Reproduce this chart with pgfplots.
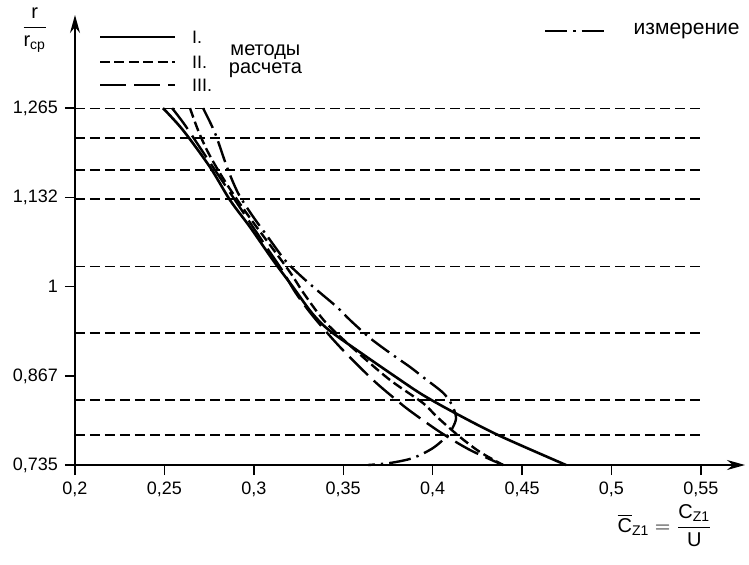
\documentclass[border=0pt]{standalone}
\usepackage{fontspec}
\setmainfont{Liberation Sans}
\usepackage{amsmath}
\usepackage{pgfplots}
\pgfplotsset{compat=1.18}
\usetikzlibrary{arrows.meta}

% method I (solid)
\pgfplotstableread{
x y
0.2492 1.265
0.2604 1.2323
0.2755 1.1774
0.2867 1.1284
0.2979 1.0883
0.3107 1.0393
0.3219 0.9993
0.3325 0.9607
0.3420 0.9354
0.3600 0.9013
0.3795 0.8656
0.3946 0.8389
0.4136 0.8107
0.4377 0.7781
0.4746 0.735
}\methI
% method II (short dashes)
\pgfplotstableread{
x y
0.2643 1.265
0.2688 1.2323
0.2738 1.2026
0.2800 1.1730
0.2878 1.1403
0.2979 1.1017
0.3091 1.0616
0.3202 1.0215
0.3286 0.9874
0.3405 0.9458
0.3585 0.9013
0.3762 0.8612
0.3946 0.8270
0.4025 0.8063
0.4153 0.7766
0.4265 0.7543
0.4394 0.735
}\methII
% method III (long dashes)
\pgfplotstableread{
x y
0.2543 1.265
0.2615 1.2398
0.2727 1.1952
0.2839 1.1507
0.2951 1.1061
0.3063 1.0616
0.3158 1.0245
0.3235 0.9903
0.3335 0.9547
0.3482 0.9102
0.3667 0.8612
0.3818 0.8270
0.3890 0.8122
0.4041 0.7840
0.4209 0.7573
0.4394 0.735
}\methIII
% measurement (dash-dot)
\pgfplotstableread{
x y
0.2716 1.265
0.2783 1.228
0.2850 1.1774
0.2912 1.1388
0.2990 1.1061
0.3079 1.0735
0.3174 1.0393
0.3258 1.0170
0.3353 0.9948
0.3465 0.9696
0.3538 0.9503
0.3650 0.9235
0.3762 0.9013
0.3874 0.8805
0.3946 0.8656
0.4041 0.8463
0.4080 0.8359
0.4114 0.8211
0.4131 0.8048
0.4114 0.7914
0.4080 0.7780
0.4002 0.7602
0.3890 0.7454
0.3762 0.7380
0.3639 0.735
}\meas

\tikzset{
  gridln/.style={black, line width=0.6pt, dash pattern=on 5pt off 2.5pt},
  mI/.style={black, line width=1.3pt},
  mII/.style={black, line width=1.2pt, dash pattern=on 5pt off 2.2pt},
  mIII/.style={black, line width=1.2pt, dash pattern=on 13pt off 4pt},
  mM/.style={black, line width=1.2pt, dash pattern=on 11pt off 3pt on 1.2pt off 3pt},
}

\begin{document}
\begin{tikzpicture}
\path[use as bounding box] (-37.5pt,-49.5pt) rectangle (337pt,232.5pt);
\begin{axis}[
  at={(0,0)}, anchor=south west,
  scale only axis, width=335pt, height=225pt,
  xmin=0.2, xmax=0.5747, ymin=0.735, ymax=1.4033,
  axis lines=left,
  axis line style={line width=0.8pt, -{Stealth[length=9pt,width=5pt]}},
  clip=false,
  xtick={0.2,0.25,0.3,0.35,0.4,0.45,0.5,0.55},
  xticklabels={{0,2},{0,25},{0,3},{0,35},{0,4},{0,45},{0,5},{0,55}},
  ytick={0.735,0.867,1,1.132,1.265},
  yticklabels={{0,735},{0,867},1,{1,132},{1,265}},
  tick align=outside,
  major tick length=5pt,
  tick style={black, line width=0.7pt},
  tick label style={font=\fontsize{9}{10}\selectfont},
]
\pgfplotsinvokeforeach{1.265,1.2205,1.173,1.13,1.030,0.931,0.8315,0.7795}{
  \addplot[gridln] coordinates {(0.2,#1) (0.551,#1)};
}
\addplot[mI, smooth] table {\methI};
\addplot[mII, smooth] table {\methII};
\addplot[mIII, smooth] table {\methIII};
\addplot[mM, smooth] table {\meas};

% legend
\draw[mI] (axis cs:0.214,1.3704) -- (axis cs:0.2559,1.3704);
\draw[mII] (axis cs:0.214,1.3333) -- (axis cs:0.2559,1.3333);
\draw[mIII] (axis cs:0.214,1.2991) -- (axis cs:0.2559,1.2991);
\node[anchor=west, font=\fontsize{9}{10}\selectfont] at (axis cs:0.2615,1.3704) {I.};
\node[anchor=west, font=\fontsize{9}{10}\selectfont] at (axis cs:0.2615,1.3333) {II.};
\node[anchor=west, font=\fontsize{9}{10}\selectfont] at (axis cs:0.2615,1.2991) {III.};
\node[font=\fontsize{10}{10}\selectfont, align=center] at (axis cs:0.3065,1.335) {методы\\[-1pt]расчета};
\draw[mM] (axis cs:0.4629,1.3793) -- (axis cs:0.4964,1.3793);
\node[anchor=west, font=\fontsize{10.5}{10}\selectfont] at (axis cs:0.5085,1.3793) {измерение};

% axis labels
\node[font=\fontsize{10}{11}\selectfont] at (axis cs:0.1775,1.381) {$\dfrac{\text{r}}{\text{r}_{\text{ср}}}$};
\node[font=\fontsize{10}{11}\selectfont] at (axis cs:0.530,0.645) {$\overline{\text{C}}_{\text{Z1}} = \dfrac{\text{C}_{\text{Z1}}}{\text{U}}$};
\end{axis}
\end{tikzpicture}
\end{document}
